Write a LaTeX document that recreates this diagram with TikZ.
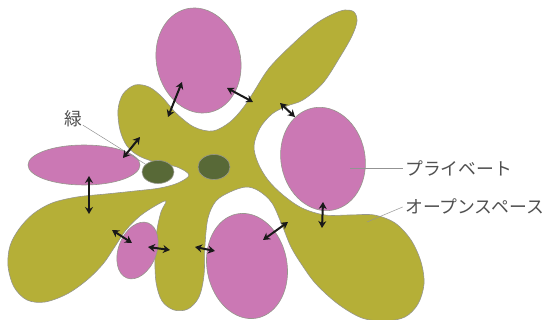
\documentclass[tikz,border=0pt]{standalone}
\usepackage{fontspec}
\newfontfamily\jp{Noto Sans CJK JP}
\usetikzlibrary{shapes.geometric,arrows.meta}
\definecolor{olivebody}{RGB}{181,175,55}
\definecolor{pinkroom}{RGB}{203,120,180}
\definecolor{greendot}{RGB}{88,105,55}
\definecolor{edgegray}{RGB}{150,150,140}
\definecolor{labelgray}{RGB}{80,80,80}
\tikzset{
  room/.style={ellipse, draw=edgegray, line width=0.6pt, fill=pinkroom, inner sep=0pt, outer sep=0pt},
  greenspot/.style={ellipse, draw=edgegray, line width=0.6pt, fill=greendot, inner sep=0pt, outer sep=0pt},
  link/.style={{Stealth[length=7pt,width=8pt]}-{Stealth[length=7pt,width=8pt]}, line width=2pt, draw=black!90},
  leader/.style={draw=gray!85, line width=0.5pt},
  lbl/.style={font=\jp\fontsize{17.8}{20}\selectfont, text=labelgray, inner sep=0pt},
}
\begin{document}
\begin{tikzpicture}[x=1pt,y=-1pt]
\useasboundingbox (0,0) rectangle (550,320);
% open space (olive body)
\draw[draw=edgegray, line width=0.6pt, fill=olivebody]
  plot[smooth cycle, tension=0.55] coordinates {
  (333,14) (345,10) (354,12) (357,21) (352,36)
  (340,57) (323,83) (303,100) (287,106)
  (272,114) (260,128) (254,146) (258,163) (268,180) (283,195) (302,208) (325,215)
  (350,215) (374,215) (395,223) (411,240) (421,262) (424,284) (418,304) (405,317) (385,321) (362,318)
  (338,304) (316,284) (302,265) (291,247) (282,225) (272,203) (259,191) (246,187)
  (230,192) (216,201) (208,218) (205,245) (204,275) (199,297) (188,309) (174,310) (162,301) (156,282) (155,255) (157,230) (161,212) (166,201)
  (155,206) (140,216) (126,230) (114,248) (103,264) (87,280) (67,294) (45,302) (27,300) (14,287) (8,266) (10,246) (19,229) (33,214) (52,203) (77,197) (106,194) (135,191) (160,188) (178,183) (189,175)
  (177,167) (158,163) (139,156) (127,146) (120,130) (118,110) (123,94) (135,85) (149,87) (162,97) (176,113) (194,127) (213,131) (230,122) (243,108) (253,93) (270,67) (297,40) (317,23)
  };
% private rooms
\node[room, minimum width=84pt, minimum height=106pt, rotate=12.6] (top) at (198.5,60.5) {};
\node[room, minimum width=84pt, minimum height=104pt, rotate=11] (right) at (323,159) {};
\node[room, minimum width=80pt, minimum height=106pt, rotate=10.8] (lowbig) at (247,266) {};
\node[room, minimum width=38pt, minimum height=59pt, rotate=-21] (small) at (137.5,250.5) {};
\node[room, minimum width=112pt, minimum height=40pt] (left) at (84,165) {};
% labels
\node[lbl] (lblG) at (73,119) {緑};
\node[lbl, anchor=west] (lblP) at (405,168) {プライベート};
\node[lbl, anchor=west] (lblO) at (405,206) {オープンスペース};
\coordinate (pP) at (350,168);
\coordinate (pO) at (367,222);
% green spots
\node[greenspot, minimum width=32pt, minimum height=23pt] (dotL) at (158,172) {};
\node[greenspot, minimum width=32pt, minimum height=25pt] (dotR) at (214,167) {};
\draw[leader, shorten <=1pt] (lblG) -- (dotL);
\draw[leader, shorten >=2.5pt] (pP) -- (lblP.west);
\draw[leader, shorten >=2.5pt] (pO) -- (lblO.west);
% arrow end points
\coordinate (a1s) at (168,117); \coordinate (a1e) at (182,82);
\coordinate (a2s) at (227,88);  \coordinate (a2e) at (253,102);
\coordinate (a3s) at (280,103); \coordinate (a3e) at (295,117);
\coordinate (a4s) at (123,158); \coordinate (a4e) at (140,137);
\coordinate (a5s) at (89,176);  \coordinate (a5e) at (89,214);
\coordinate (a6s) at (112,230); \coordinate (a6e) at (132,243);
\coordinate (a7s) at (148,247); \coordinate (a7e) at (170,250);
\coordinate (a8s) at (195,247); \coordinate (a8e) at (215,251);
\coordinate (a9s) at (263,240); \coordinate (a9e) at (288,222);
\coordinate (a10s) at (323,202); \coordinate (a10e) at (322,228);
\draw[link] (a1s) -- (a1e);
\draw[link] (a2s) -- (a2e);
\draw[link] (a3s) -- (a3e);
\draw[link] (a4s) -- (a4e);
\draw[link] (a5s) -- (a5e);
\draw[link] (a6s) -- (a6e);
\draw[link] (a7s) -- (a7e);
\draw[link] (a8s) -- (a8e);
\draw[link] (a9s) -- (a9e);
\draw[link] (a10s) -- (a10e);
\end{tikzpicture}
\end{document}
